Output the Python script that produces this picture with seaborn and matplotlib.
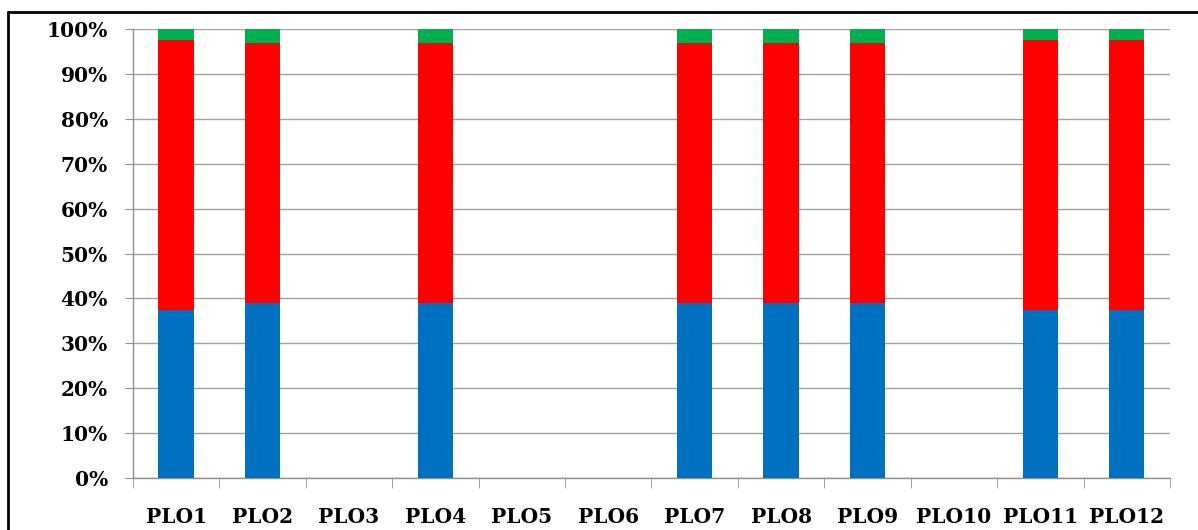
import numpy as np
import pandas as pd
import matplotlib.pyplot as plt
import seaborn as sns
from matplotlib.lines import Line2D
from matplotlib.ticker import FixedLocator, PercentFormatter

# data (percent of each PLO)
plos = ['PLO1', 'PLO2', 'PLO3', 'PLO4', 'PLO5', 'PLO6',
        'PLO7', 'PLO8', 'PLO9', 'PLO10', 'PLO11', 'PLO12']
blue = [37.5, 39.0, 0, 39.0, 0, 0, 39.0, 39.0, 39.0, 0, 37.5, 37.5]
red = [60.0, 58.0, 0, 58.0, 0, 0, 58.0, 58.0, 58.0, 0, 60.0, 60.0]
green = [2.5, 3.0, 0, 3.0, 0, 0, 3.0, 3.0, 3.0, 0, 2.5, 2.5]

df = pd.DataFrame({'plo': plos, 'blue': blue, 'red': red, 'green': green})
df['top_red'] = df['blue'] + df['red']
df['top_green'] = df['top_red'] + df['green']

sns.set_style('white')
plt.rcParams['font.family'] = ['DejaVu Serif']

fig = plt.figure(figsize=(11.98, 5.30), dpi=100)
ax = fig.add_axes([0.111, 0.098, 0.8656, 0.847])

# stack by overlaying cumulative bars
for col, colour in [('top_green', '#00B050'), ('top_red', '#FF0000'), ('blue', '#0070C0')]:
    sns.barplot(data=df, x='plo', y=col, color=colour, width=0.41,
                saturation=1, linewidth=0, ax=ax, zorder=3)

ax.set_xlim(-0.5, len(plos) - 0.5)
ax.set_ylim(0, 100)
ax.set_yticks(np.arange(0, 101, 10))
ax.yaxis.set_major_formatter(PercentFormatter(decimals=0))
ax.yaxis.grid(True, color='#A0A0A0', linewidth=1, zorder=0)
ax.set_axisbelow(True)
ax.set_xlabel('')
ax.set_ylabel('')

for s in ['top', 'right']:
    ax.spines[s].set_visible(False)
for s in ['left', 'bottom']:
    ax.spines[s].set_color('#909090')
    ax.spines[s].set_linewidth(1)

ax.xaxis.set_minor_locator(FixedLocator(np.arange(-0.5, len(plos), 1)))
ax.tick_params(axis='x', which='major', length=0, pad=21, labelsize=14.5, labelcolor='black')
ax.tick_params(axis='x', which='minor', length=7, color='#909090', direction='out', bottom=True)
ax.tick_params(axis='y', length=6, color='#909090', direction='out', left=True, pad=12,
               labelsize=14.5, labelcolor='black')
for lbl in ax.get_xticklabels() + ax.get_yticklabels():
    lbl.set_fontweight('bold')

# outer black frame (only top and left visible in the reference)
fig.add_artist(Line2D([8 / 1198, 1], [1 - 12 / 530, 1 - 12 / 530], color='black', lw=2))
fig.add_artist(Line2D([8 / 1198, 8 / 1198], [0, 1 - 12 / 530], color='black', lw=2))

fig.savefig('out.png', dpi=100, facecolor='white')
